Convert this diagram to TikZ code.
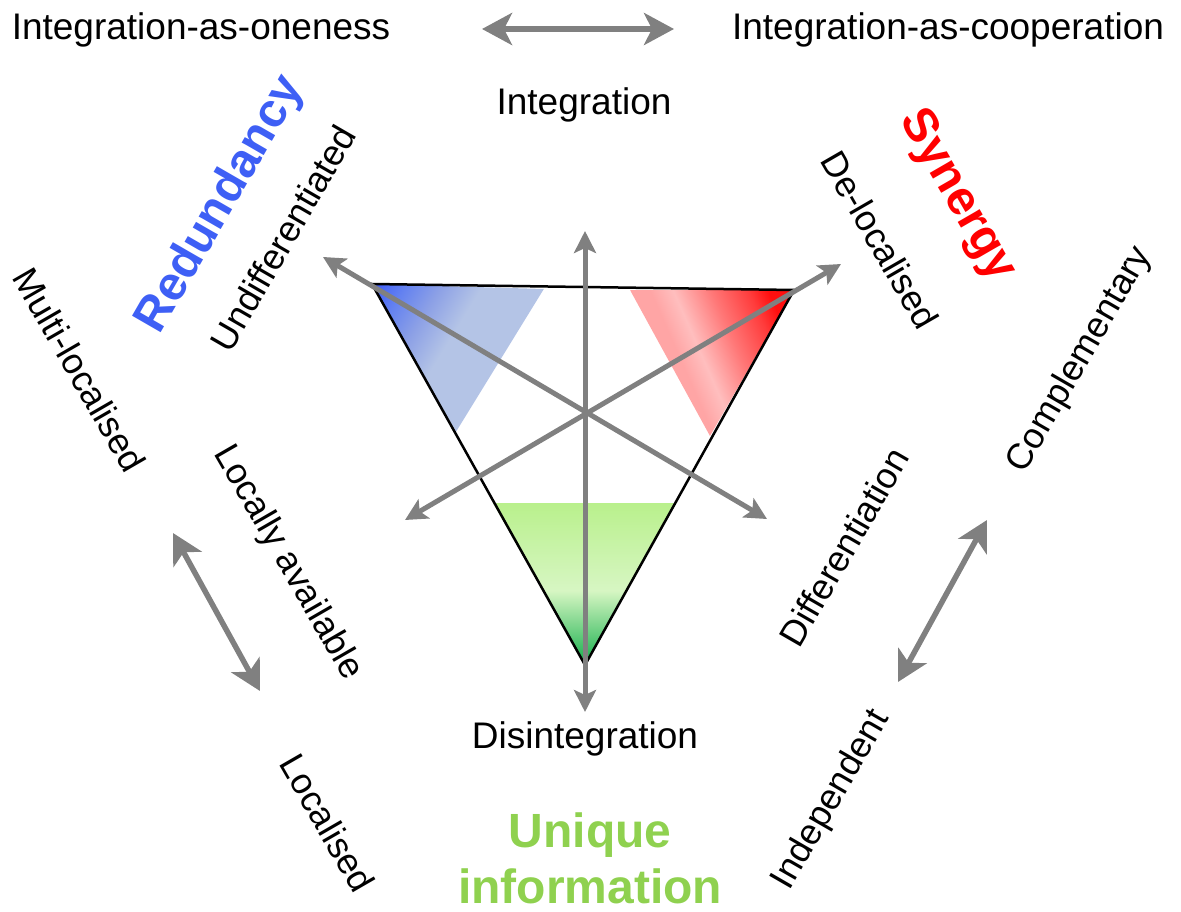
\documentclass[tikz,border=0pt]{standalone}
\usepackage{fontspec}
\setmainfont{Liberation Sans}
\usetikzlibrary{arrows.meta}
\definecolor{agray}{RGB}{128,128,128}
\definecolor{bdark}{RGB}{60,90,250}
\definecolor{bmid}{RGB}{100,130,240}
\definecolor{bmid2}{RGB}{140,160,230}
\definecolor{blight}{RGB}{180,196,230}
\definecolor{rdark}{RGB}{255,15,15}
\definecolor{rmid}{RGB}{255,60,60}
\definecolor{rmid2}{RGB}{255,120,120}
\definecolor{rstripe}{RGB}{255,190,190}
\definecolor{rpink}{RGB}{255,165,165}
\definecolor{gdark}{RGB}{35,180,85}
\definecolor{gpale}{RGB}{215,246,195}
\definecolor{glight}{RGB}{185,240,140}
\definecolor{redund}{RGB}{62,95,245}
\definecolor{syn}{RGB}{255,0,0}
\definecolor{uniq}{RGB}{143,209,79}
\pgfdeclarehorizontalshading{blueshd}{100bp}{color(0bp)=(bdark); color(25bp)=(bdark); color(35bp)=(bmid); color(45bp)=(bmid2); color(57bp)=(blight); color(100bp)=(blight)}
\pgfdeclarehorizontalshading{redshd}{100bp}{color(0bp)=(rdark); color(33bp)=(rdark); color(39bp)=(rmid); color(50.5bp)=(rmid2); color(62bp)=(rstripe); color(69bp)=(rpink); color(100bp)=(rpink)}
\pgfdeclareverticalshading{greenshd}{100bp}{color(0bp)=(gdark); color(27bp)=(gdark); color(48bp)=(gpale); color(75bp)=(glight); color(100bp)=(glight)}
\begin{document}
\begin{tikzpicture}[x=1pt,y=1pt,
  lbl/.style={font=\fontsize{37}{44}\selectfont, inner sep=0pt},
  rlbl/.style={font=\fontsize{36}{43}\selectfont, inner sep=0pt},
  cat/.style={font=\fontsize{48}{56}\selectfont\bfseries, inner sep=0pt},
  garrow/.style={draw=agray, line width=5pt, {Stealth[length=22pt,width=22pt,inset=5pt]}-{Stealth[length=22pt,width=22pt,inset=5pt]}},
  bigarrow/.style={draw=agray, line width=5.5pt, {Stealth[length=30pt,width=32pt,inset=8pt]}-{Stealth[length=30pt,width=32pt,inset=8pt]}},
]
\useasboundingbox (0,0) rectangle (1181,-912);

% blue corner
\begin{scope}
\clip (372,-284) -- (544,-289) -- (456,-432) -- cycle;
\begin{scope}[transform canvas={rotate around={-31.6:(372,-284)}}]
\shade[shading=blueshd] (372,-484) rectangle (521,-84);
\end{scope}
\end{scope}
% red corner
\begin{scope}
\clip (630,-290) -- (794,-290) -- (710,-436) -- cycle;
\begin{scope}[transform canvas={rotate around={203.7:(794,-290)}}]
\shade[shading=redshd] (794,-490) rectangle (944,-90);
\end{scope}
\end{scope}
% green corner
\shade[shading=greenshd] (493,-503) -- (674,-503) -- (585,-665) -- cycle;
% triangle
\draw[line width=2.5pt, line join=miter] (372,-284) -- (794,-290) -- (585,-665) -- cycle;

% central arrows
\coordinate (vt) at (585,-231);
\coordinate (vb) at (585,-712);
\coordinate (ul) at (323,-257);
\coordinate (lr) at (767,-519);
\coordinate (ur) at (841,-264);
\coordinate (ll) at (405,-520);
\draw[garrow] (vb) -- (vt);
\draw[garrow] (ul) -- (lr);
\draw[garrow] (ll) -- (ur);

% outer double arrows
\coordinate (ta) at (482,-29);
\coordinate (tb) at (674,-29);
\coordinate (la) at (173,-533);
\coordinate (lb) at (260,-691);
\coordinate (ra) at (987,-520);
\coordinate (rb) at (898,-682);
\draw[bigarrow] (ta) -- (tb);
\draw[bigarrow] (la) -- (lb);
\draw[bigarrow] (ra) -- (rb);

% texts
\node[lbl, anchor=base] (oneness) at (201,-40) {Integration-as-oneness};
\node[lbl, anchor=base] (coop) at (948,-40) {Integration-as-cooperation};
\node[lbl, anchor=base] (integ) at (584,-115) {Integration};
\node[lbl, anchor=base] (disint) at (585,-748) {Disintegration};
\node[cat, text=uniq, anchor=base] (uniq1) at (590,-847) {Unique};
\node[cat, text=uniq, anchor=base] (uniq2) at (590,-903) {information};

\node[cat, text=redund, rotate=60] (redun) at (221,-205) {Redundancy};
\node[rlbl, rotate=60] (undiff) at (283,-238) {Undifferentiated};
\node[rlbl, rotate=-60] (multi) at (80,-370) {Multi-localised};
\node[rlbl, rotate=-60] (locav) at (288,-563) {Locally available};
\node[rlbl, rotate=-60] (local) at (328,-823) {Localised};
\node[cat, text=syn, rotate=-60] (syner) at (957,-196) {Synergy};
\node[rlbl, rotate=-60] (deloc) at (880,-240) {De-localised};
\node[rlbl, rotate=60] (compl) at (1080,-360) {Complementary};
\node[rlbl, rotate=60] (diffe) at (844,-547) {Differentiation};
\node[rlbl, rotate=60] (indep) at (831,-800) {Independent};
\end{tikzpicture}
\end{document}
